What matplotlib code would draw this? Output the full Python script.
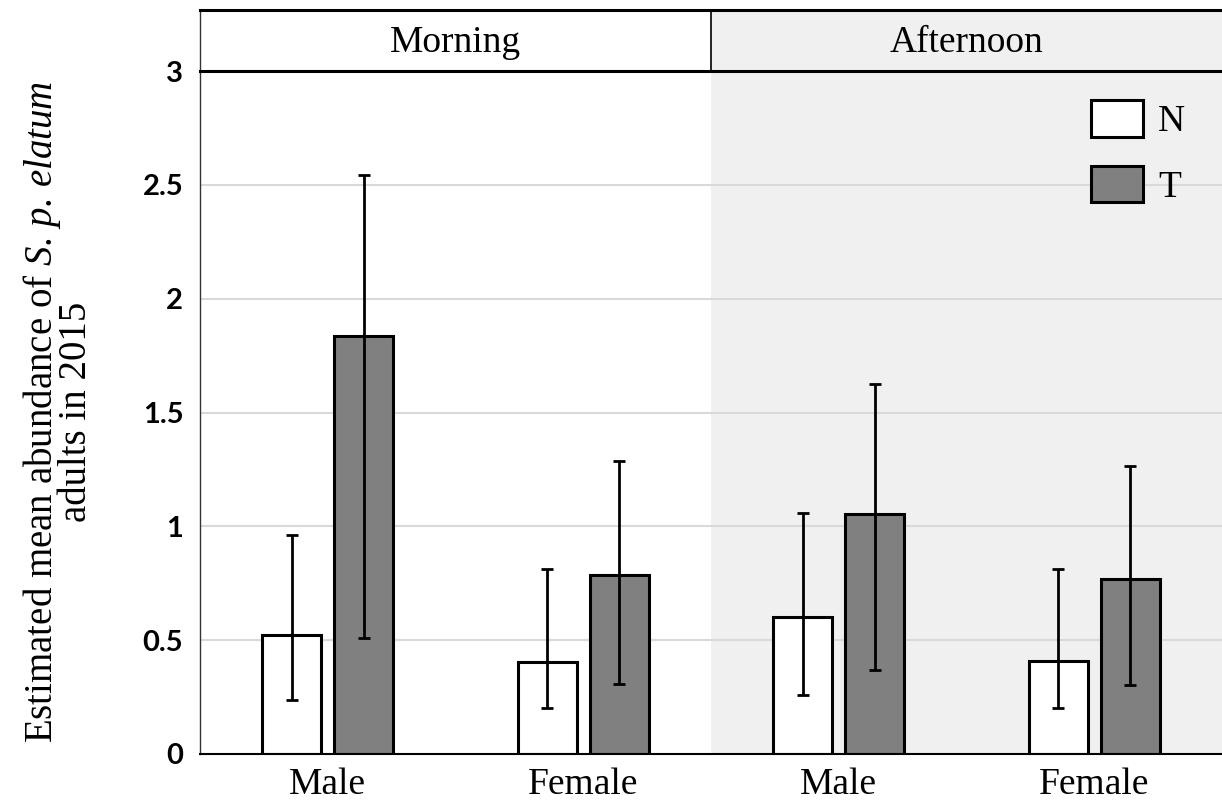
import matplotlib
matplotlib.use("Agg")
import matplotlib.pyplot as plt

plt.rcParams['mathtext.fontset'] = 'custom'
plt.rcParams['mathtext.rm'] = 'Liberation Serif'
plt.rcParams['mathtext.it'] = 'Liberation Serif:italic'

# estimated means with lower/upper confidence limits
periods = ["Morning", "Afternoon"]
sexes = ["Male", "Female", "Male", "Female"]
mean_N = [0.523, 0.405, 0.601, 0.407]
low_N = [0.237, 0.202, 0.261, 0.204]
high_N = [0.960, 0.812, 1.059, 0.814]
mean_T = [1.834, 0.785, 1.056, 0.767]
low_T = [0.509, 0.308, 0.370, 0.305]
high_T = [2.544, 1.288, 1.627, 1.266]
yticks = [0, 0.5, 1, 1.5, 2, 2.5, 3]
ytick_labels = ["0", "0.5", "1", "1.5", "2", "2.5", "3"]

serif = "Liberation Serif"
shade = "#f0f0f0"

fig = plt.figure(figsize=(12.22, 8.07), dpi=100)
ax = fig.add_axes([200 / 1222, 1 - 754 / 807, 1022 / 1222, 683 / 807])
head = fig.add_axes([200 / 1222, 1 - 71 / 807, 1022 / 1222, 61 / 807])

ax.set_xlim(0, 4)
ax.set_ylim(0, 3)
ax.axvspan(2, 4, color=shade, zorder=0, lw=0)
for y in yticks[1:-1]:
    ax.axhline(y, color="#d9d9d9", lw=1.5, zorder=1)

x = [0.5, 1.5, 2.5, 3.5]
w = 0.231
off = 0.141
xn = [xi - off for xi in x]
xt = [xi + off for xi in x]
err_N = [[m - l for m, l in zip(mean_N, low_N)], [h - m for m, h in zip(mean_N, high_N)]]
err_T = [[m - l for m, l in zip(mean_T, low_T)], [h - m for m, h in zip(mean_T, high_T)]]

ax.bar(xn, mean_N, width=w, color="white", edgecolor="black", linewidth=2.2, zorder=2, label="N")
ax.bar(xt, mean_T, width=w, color="#808080", edgecolor="black", linewidth=2.2, zorder=2, label="T")
ax.errorbar(xn, mean_N, yerr=err_N, fmt="none", ecolor="black", elinewidth=2, capsize=4, capthick=2, zorder=3)
ax.errorbar(xt, mean_T, yerr=err_T, fmt="none", ecolor="black", elinewidth=2, capsize=4, capthick=2, zorder=3)

ax.set_yticks(yticks)
ax.set_yticklabels(ytick_labels, fontsize=21, fontfamily="Lato", fontweight="bold")
ax.set_xticks(x)
ax.set_xticklabels(sexes, fontsize=27, fontfamily=serif)
ax.tick_params(axis="y", length=0, pad=12)
ax.tick_params(axis="x", length=0, pad=10)
for s in ["top", "right"]:
    ax.spines[s].set_visible(False)
ax.spines["left"].set_linewidth(1.0)
ax.spines["left"].set_color("#333333")
ax.spines["bottom"].set_linewidth(1.5)

leg = ax.legend(loc="upper right", bbox_to_anchor=(0.986, 0.99), frameon=False,
                prop={"family": serif, "size": 27}, handlelength=1.4, handleheight=1.12,
                labelspacing=0.7, handletextpad=0.4, borderaxespad=0.2)

# header strip with period names
head.set_xlim(0, 4)
head.set_ylim(0, 1)
head.axvspan(2, 4, color=shade, lw=0)
head.axvline(2, color="black", lw=1.2)
head.set_xticks([])
head.set_yticks([])
head.spines["right"].set_visible(False)
head.spines["top"].set_linewidth(2.2)
head.spines["bottom"].set_linewidth(2.2)
head.spines["left"].set_linewidth(1.0)
head.spines["left"].set_color("#333333")
for i, p in enumerate(periods):
    head.text(1 + 2 * i, 0.47, p, ha="center", va="center", fontsize=27, fontfamily=serif)

fig.text(58 / 1222, 1 - 412 / 807,
         r"Estimated mean abundance of $S.\,p.\,elatum$" + "\n" + "adults in 2015",
         rotation=90, ha="center", va="center", multialignment="center",
         fontsize=28, fontfamily=serif, linespacing=0.85)

fig.savefig("out.png", dpi=100)
